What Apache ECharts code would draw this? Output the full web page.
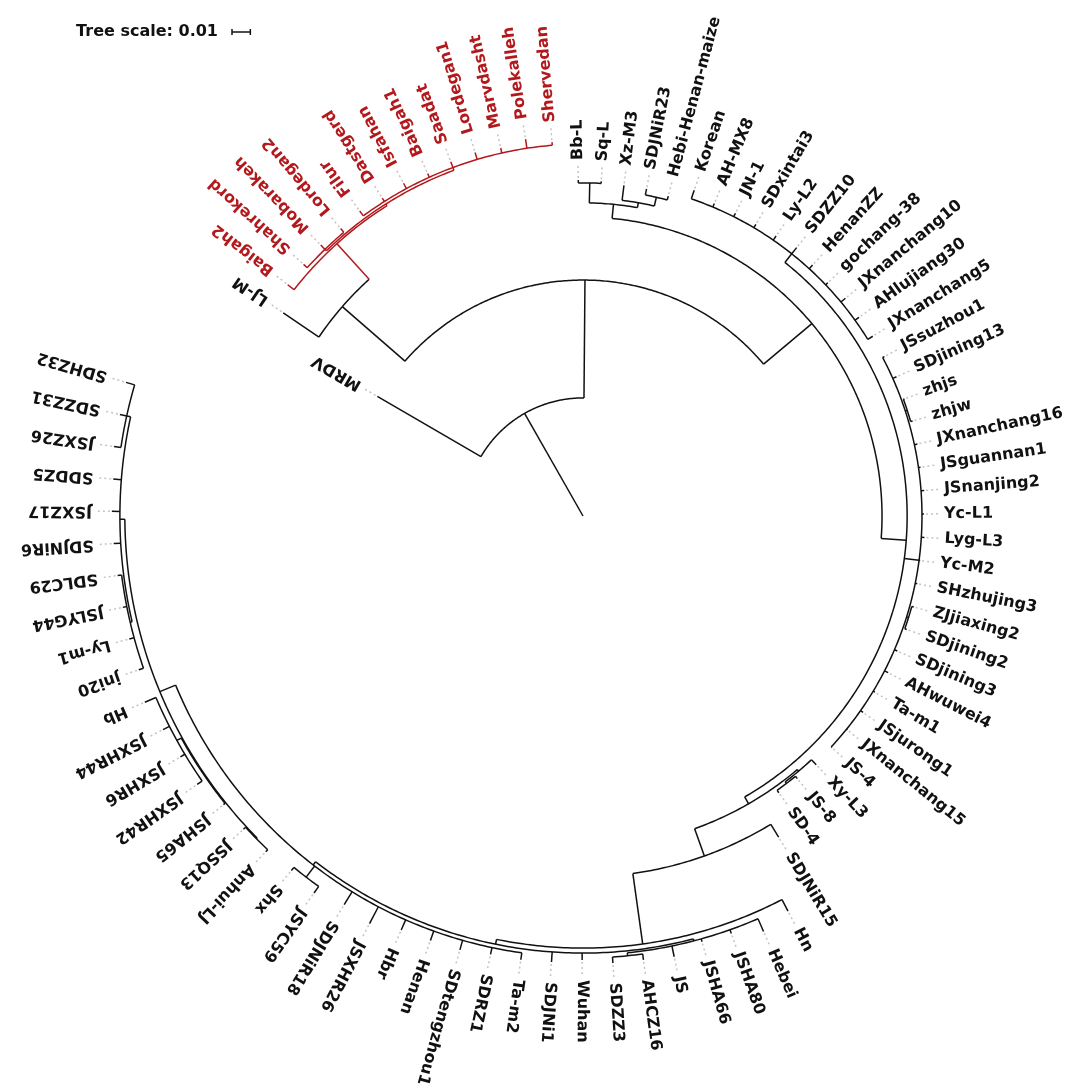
<!DOCTYPE html>
<html>
<head>
<meta charset="utf-8">
<script src="https://cdn.jsdelivr.net/npm/echarts@6/dist/echarts.min.js"></script>
<style>
  html, body { margin: 0; padding: 0; background: #fff; }
  #chart { width: 1072px; height: 1084px; }
</style>
</head>
<body>
<div id="chart"></div>
<script>
// leaves, clockwise from MRDV
const leafNames = [
  'MRDV', 'LJ-M', 'Baigah2', 'Shahrekord', 'Mobarakeh', 'Lordegan2', 'Filur', 'Dastgerd',
  'Isfahan', 'Baigah1', 'Saadat', 'Lordegan1', 'Marvdasht', 'Polekalleh', 'Shervedan',
  'Bb-L', 'Sq-L', 'Xz-M3', 'SDJNiR23', 'Hebi-Henan-maize', 'Korean', 'AH-MX8', 'JN-1',
  'SDxintai3', 'Ly-L2', 'SDZZ10', 'HenanZZ', 'gochang-38', 'JXnanchang10', 'AHlujiang30',
  'JXnanchang5', 'JSsuzhou1', 'SDjining13', 'zhjs', 'zhjw', 'JXnanchang16', 'JSguannan1',
  'JSnanjing2', 'Yc-L1', 'Lyg-L3', 'Yc-M2', 'SHzhujing3', 'ZJjiaxing2', 'SDjining2',
  'SDjining3', 'AHwuwei4', 'Ta-m1', 'JSjurong1', 'JXnanchang15', 'JS-4', 'Xy-L3', 'JS-8',
  'SD-4', 'SDJNiR15', 'Hn', 'Hebei', 'JSHA80', 'JSHA66', 'JS', 'AHCZ16', 'SDZZ3', 'Wuhan',
  'SDJNi1', 'Ta-m2', 'SDRZ1', 'SDtengzhou1', 'Henan', 'Hbr', 'JSXHR26', 'SDJNiR18',
  'JSYC59', 'Shx', 'Anhui-LJ', 'JSSQ13', 'JSHA65', 'JSXHR42', 'JSXHR6', 'JSXHR44', 'Hb',
  'jni20', 'Ly-m1', 'JSLYG44', 'SDLC29', 'SDJNiR6', 'JSXZ17', 'SDDZ5', 'JSXZ26', 'SDZZ31',
  'SDHZ32'
]
const leafParents = [
  'A', 'C', 'R', 'SML', 'SML', 'SML', 'R5', 'R5',
  'R5', 'R5', 'R5', 'R5', 'R5', 'R5', 'R5',
  'BS', 'BS', 'X', 'SH', 'SH', 'G', 'G', 'G',
  'G', 'G', 'G', 'G', 'G', 'G', 'G',
  'G', 'M', 'M', 'ZW', 'ZW', 'M', 'M',
  'M', 'M', 'M', 'M', 'M', 'ZS', 'ZS',
  'M', 'M', 'M', 'M', 'M', 'M', 'Xc', 'XS',
  'XS', 'P', 'K', 'KC', 'KC', 'KC', 'KC', 'KCa', 'KCa', 'N2',
  'N2', 'N3', 'N3', 'N3', 'N3', 'N3', 'N3', 'N3',
  'KG', 'KG', 'AJ', 'AJ', 'J', 'J2', 'J2', 'J2', 'J2',
  'LLa', 'LLa', 'LLa', 'LLa', 'LL', 'LL', 'LL', 'LLb', 'LLb',
  'LLb'
]
// distance from root, substitutions per site
const leafDepths = [
  0.1298, 0.1975, 0.2046, 0.2051, 0.2057, 0.2051, 0.2062, 0.2051,
  0.2062, 0.2051, 0.2062, 0.2068, 0.2057, 0.2079, 0.2046,
  0.1833, 0.1828, 0.1817, 0.1817, 0.1806, 0.1877, 0.1849, 0.1849,
  0.1849, 0.1855, 0.1871, 0.1855, 0.1844, 0.1860, 0.1855,
  0.1860, 0.1860, 0.1871, 0.1866, 0.1871, 0.1866, 0.1860,
  0.1866, 0.1860, 0.1866, 0.1855, 0.1860, 0.1871, 0.1871,
  0.1866, 0.1871, 0.1860, 0.1866, 0.1855, 0.1855, 0.1860, 0.1849,
  0.1849, 0.2051, 0.2428, 0.2471, 0.2417, 0.2411, 0.2455, 0.2444, 0.2444, 0.2422,
  0.2439, 0.2444, 0.2444, 0.2460, 0.2460, 0.2466, 0.2510, 0.2488,
  0.2526, 0.2504, 0.2520, 0.2520, 0.2515, 0.2564, 0.2559, 0.2570, 0.2597,
  0.2564, 0.2564, 0.2559, 0.2559, 0.2564, 0.2570, 0.2570, 0.2586, 0.2586,
  0.2597
]

// internal nodes
const nodeNames = [
  'root', 'A', 'B', 'C', 'R', 'R2', 'SML', 'R5', 'D', 'E', 'BS', 'X', 'SH', 'F', 'G', 'M',
  'ZW', 'ZS', 'H', 'Xc', 'XS', 'P', 'K', 'N2', 'KC', 'KCa', 'N3', 'KG', 'N4', 'AJ', 'J',
  'J2', 'LL', 'LLa', 'LLb'
]
const nodeParents = [
  null, 'root', 'A', 'B', 'C', 'R', 'R2', 'R2', 'B', 'D', 'E', 'E', 'X', 'D', 'F', 'F',
  'M', 'M', 'F', 'H', 'Xc', 'H', 'P', 'K', 'N2', 'KC', 'N2', 'N3', 'N3', 'N4', 'N4',
  'J', 'N4', 'LL', 'LL'
]
const nodeDepths = [
  0, 0.0644, 0.1287, 0.1740, 0.2002, 0.2013, 0.2024, 0.2029, 0.1631, 0.1708, 0.1817,
  0.1735, 0.1784, 0.1768, 0.1828, 0.1849, 0.1860, 0.1860, 0.1811, 0.1822, 0.1833,
  0.1969, 0.2357, 0.2384, 0.2395, 0.2411, 0.2406, 0.2482, 0.2499, 0.2504, 0.2504,
  0.2531, 0.2526, 0.2537, 0.2548
]
const redNodes = ['R', 'R2', 'SML', 'R5']

const treeScale = 0.01

const START_ANGLE = 300.2
const ANGLE_GAP = 13.9
const BLACK = '#111'
const RED = '#b3191c'
const LW = 1.5
const FONT = 'bold 16px "DejaVu Sans", sans-serif'

// build tree
const nodes = {}
nodeNames.forEach((name, i) => {
  nodes[name] = { name, parent: nodeParents[i], depth: nodeDepths[i], children: [], leaf: false }
})
const step = (360 - ANGLE_GAP) / (leafNames.length - 1)
leafNames.forEach((name, i) => {
  nodes['leaf:' + name] = {
    name, parent: leafParents[i], depth: leafDepths[i], children: [], leaf: true,
    angle: START_ANGLE + i * step,
  }
})
Object.values(nodes).forEach((n) => {
  if (n.parent) nodes[n.parent].children.push(n)
})
function layout(n) {
  if (n.leaf) {
    n.minA = n.maxA = n.angle
    return n.angle
  }
  const a = n.children.map(layout)
  n.minA = Math.min(...a)
  n.maxA = Math.max(...a)
  n.angle = (n.minA + n.maxA) / 2
  return n.angle
}
layout(nodes.root)
Object.values(nodes).forEach((n) => {
  n.red = redNodes.includes(n.name) || (n.leaf && redNodes.includes(n.parent))
  n.parentDepth = n.parent ? nodes[n.parent].depth : 0
})

const items = Object.values(nodes).filter((n) => n.parent)
const seriesData = items.map((n) => [n.depth, n.angle % 360])
seriesData.push([0, 0]) // scale bar

const chart = echarts.init(document.getElementById('chart'), null, { renderer: 'canvas' })

function renderItem(params, api) {
  const idx = params.dataIndex
  if (idx === items.length) {
    const a = api.coord([0, 90])
    const b = api.coord([treeScale, 90])
    const len = Math.hypot(b[0] - a[0], b[1] - a[1])
    const x0 = 232
    const y0 = 32
    const st = { stroke: BLACK, lineWidth: 1.5 }
    return {
      type: 'group',
      children: [
        { type: 'text', x: 218, y: y0, style: { text: 'Tree scale: ' + treeScale, font: FONT, fill: BLACK, align: 'right', verticalAlign: 'middle' } },
        { type: 'line', shape: { x1: x0, y1: y0, x2: x0 + len, y2: y0 }, style: st },
        { type: 'line', shape: { x1: x0, y1: y0 - 3, x2: x0, y2: y0 + 3 }, style: st },
        { type: 'line', shape: { x1: x0 + len, y1: y0 - 3, x2: x0 + len, y2: y0 + 3 }, style: st },
      ],
    }
  }
  const n = items[idx]
  const color = n.red ? RED : BLACK
  const ang = n.angle % 360
  const p0 = api.coord([n.parentDepth, ang])
  const p1 = api.coord([n.depth, ang])
  const children = [
    { type: 'line', shape: { x1: p0[0], y1: p0[1], x2: p1[0], y2: p1[1] }, style: { stroke: color, lineWidth: LW } },
  ]
  if (!n.leaf) {
    const steps = Math.max(2, Math.ceil((n.maxA - n.minA) / 0.5))
    const pts = []
    for (let s = 0; s <= steps; s++) {
      const t = n.minA + ((n.maxA - n.minA) * s) / steps
      pts.push(api.coord([n.depth, t % 360]))
    }
    children.push({ type: 'polyline', shape: { points: pts }, style: { stroke: color, lineWidth: LW, fill: null } })
  } else {
    const c = api.coord([0, ang])
    const d = Math.hypot(p1[0] - c[0], p1[1] - c[1])
    const ux = (p1[0] - c[0]) / d
    const uy = (p1[1] - c[1]) / d
    children.push({
      type: 'line',
      shape: { x1: p1[0] + ux * 2, y1: p1[1] + uy * 2, x2: p1[0] + ux * 17, y2: p1[1] + uy * 17 },
      style: { stroke: '#c4c4c4', lineWidth: 1.5, lineDash: [2, 3] },
    })
    children.push({
      type: 'text',
      x: p1[0] + ux * 20,
      y: p1[1] + uy * 20,
      rotation: ((90 - ang) * Math.PI) / 180,
      style: { text: n.name, font: FONT, fill: n.red ? RED : BLACK, align: 'left', verticalAlign: 'middle' },
    })
  }
  return { type: 'group', children }
}

chart.setOption({
  animation: false,
  backgroundColor: '#fff',
  polar: { center: [583, 516], radius: 550 },
  angleAxis: { type: 'value', min: 0, max: 360, startAngle: 90, clockwise: true, show: false },
  radiusAxis: { type: 'value', min: 0, max: 0.3, show: false },
  series: [
    {
      type: 'custom',
      coordinateSystem: 'polar',
      silent: true,
      renderItem,
      data: seriesData,
    },
  ],
})
</script>
</body>
</html>
